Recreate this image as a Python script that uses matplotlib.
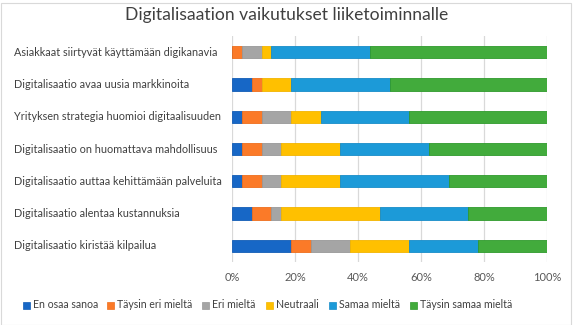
import matplotlib
matplotlib.use("Agg")
import matplotlib.pyplot as plt
from matplotlib.patches import Rectangle
from matplotlib.transforms import blended_transform_factory
import numpy as np

plt.rcParams['font.family'] = ['Lato', 'DejaVu Sans']

statements = [
    "Asiakkaat siirtyvät käyttämään digikanavia",
    "Digitalisaatio avaa uusia markkinoita",
    "Yrityksen strategia huomioi digitaalisuuden",
    "Digitalisaatio on huomattava mahdollisuus",
    "Digitalisaatio auttaa kehittämään palveluita",
    "Digitalisaatio alentaa kustannuksia",
    "Digitalisaatio kiristää kilpailua",
]

answer_labels = ["En osaa sanoa", "Täysin eri mieltä", "Eri mieltä",
                 "Neutraali", "Samaa mieltä", "Täysin samaa mieltä"]

# Share of answers (%) per statement, in the order of the statements above
en_osaa_sanoa = [0.0, 6.25, 3.125, 3.125, 3.125, 6.25, 18.75]
taysin_eri = [3.125, 3.125, 6.25, 6.25, 6.25, 6.25, 6.25]
eri_mielta = [6.25, 0.0, 9.375, 6.25, 6.25, 3.125, 12.5]
neutraali = [3.125, 9.375, 9.375, 18.75, 18.75, 31.25, 18.75]
samaa_mielta = [31.25, 31.25, 28.125, 28.125, 34.375, 28.125, 21.875]
taysin_samaa = [56.25, 50.0, 43.75, 37.5, 31.25, 25.0, 21.875]

series = [en_osaa_sanoa, taysin_eri, eri_mielta, neutraali, samaa_mielta, taysin_samaa]
colors = ["#1767C6", "#FB7A28", "#A5A5A5", "#FFC000", "#1C9AD8", "#42AB3C"]
edges = ["#125CB5", "#EE6E1C", "#989898", "#F2B400", "#178CC8", "#2F9A2C"]

W, H = 574, 325
fig = plt.figure(figsize=(W / 100, H / 100), dpi=100)
ax = fig.add_axes([232 / W, 1 - 262 / H, 315 / W, 226 / H])

y = np.arange(len(statements))
left = np.zeros(len(statements))
for vals, col, ec, lab in zip(series, colors, edges, answer_labels):
    vals = np.array(vals)
    ax.barh(y, vals, left=left, height=0.38, color=col, edgecolor=ec,
            linewidth=0.6, label=lab, zorder=3)
    left += vals

ax.set_ylim(len(statements) - 0.5, -0.5)
ax.set_xlim(0, 100)
ax.set_xticks(np.arange(0, 101, 20))
ax.set_xticklabels([f"{v}%" for v in range(0, 101, 20)])
ax.set_yticks(y)
ax.set_yticklabels([])
ax.tick_params(axis='both', length=0, labelsize=8, labelcolor="#595959")
ax.tick_params(axis='x', pad=7)
ax.grid(axis='x', color="#D9D9D9", linewidth=0.9, zorder=0)
for s in ax.spines.values():
    s.set_visible(False)

# Category labels, left aligned at the chart's left margin
tr = blended_transform_factory(fig.transFigure, ax.transData)
for yi, txt in zip(y, statements):
    ax.text(14 / W, yi, txt, transform=tr, ha='left', va='center',
            fontsize=7.8, color="#404040")

fig.text(0.5, 1 - 15 / H, "Digitalisaation vaikutukset liiketoiminnalle",
         ha='center', va='center', fontsize=12.6, color="#404040")

# Legend row: square key followed by its label
legend_x = [23, 107, 202, 266, 329, 410]
legend_y = 305
key = 7
for lx, col, ec, lab in zip(legend_x, colors, edges, answer_labels):
    fig.patches.append(Rectangle((lx / W, 1 - (legend_y + key / 2) / H), key / W, key / H,
                                 transform=fig.transFigure, facecolor=col,
                                 edgecolor=ec, linewidth=0.5))
    fig.text((lx + key + 3) / W, 1 - legend_y / H, lab, ha='left', va='center',
             fontsize=7.6, color="#404040")

fig.patches.append(Rectangle((0.5 / W, 0.5 / H), 1 - 3.5 / W, 1 - 3.5 / H,
                             transform=fig.transFigure, fill=False,
                             edgecolor="#D9D9D9", linewidth=0.8))

fig.savefig("out.png", dpi=100)
